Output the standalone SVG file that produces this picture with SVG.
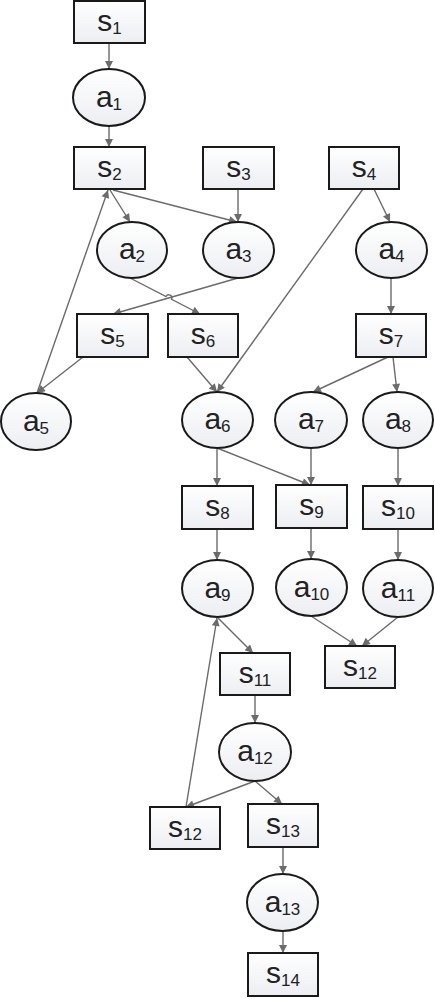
<svg xmlns="http://www.w3.org/2000/svg" width="435" height="998" viewBox="0 0 435 998">
<defs>
<linearGradient id="g" x1="0" y1="0" x2="0" y2="1">
<stop offset="0" stop-color="#ffffff"/>
<stop offset="1" stop-color="#eceef2"/>
</linearGradient>
<marker id="ah" viewBox="0 0 10 10" refX="10" refY="5" markerWidth="10" markerHeight="8" markerUnits="userSpaceOnUse" orient="auto">
<path d="M0,0 L10,5 L0,10 z" fill="#6b6b6b"/>
</marker>
<style>
rect, ellipse { fill: url(#g); stroke: #1a1a1a; stroke-width: 2; }
text { font-family: "Liberation Sans", Arial, sans-serif; font-size: 30px; fill: #222; text-anchor: middle; }
.sub { font-size: 17px; }
#edges line, #edges path { stroke: #6b6b6b; stroke-width: 1.4; fill: none; marker-end: url(#ah); }
</style>
</defs>
<g id="edges">
<line x1="109" y1="43" x2="109" y2="69"/>
<line x1="109" y1="126" x2="109" y2="147"/>
<line x1="110" y1="190" x2="130" y2="222"/>
<line x1="113" y1="190" x2="237" y2="222"/>
<line x1="238" y1="189" x2="238" y2="222"/>
<line x1="374" y1="189" x2="390" y2="222"/>
<line x1="363" y1="189" x2="217" y2="392"/>
<line x1="37" y1="393" x2="108" y2="190"/>
<line x1="83" y1="357" x2="37" y2="393"/>
<path d="M130,278 L166.1,296.5 A3,3 0 0 1 171.5,299.3 L200,314"/>
<line x1="238" y1="278" x2="113" y2="314"/>
<line x1="187" y1="357" x2="217" y2="392"/>
<line x1="391" y1="278" x2="391" y2="314"/>
<line x1="388" y1="357" x2="313" y2="392"/>
<line x1="393" y1="357" x2="397" y2="392"/>
<line x1="217" y1="448" x2="217" y2="486"/>
<line x1="217" y1="448" x2="310" y2="485"/>
<line x1="311" y1="448" x2="311" y2="485"/>
<line x1="398" y1="448" x2="398" y2="486"/>
<line x1="217" y1="529" x2="217" y2="560"/>
<line x1="311" y1="528" x2="311" y2="559"/>
<line x1="398" y1="529" x2="398" y2="560"/>
<line x1="311" y1="616" x2="357" y2="646"/>
<line x1="398" y1="617" x2="362" y2="646"/>
<line x1="218" y1="618" x2="253" y2="653"/>
<line x1="186" y1="807" x2="217" y2="618"/>
<line x1="255" y1="695" x2="255" y2="723"/>
<line x1="255" y1="781" x2="186" y2="807"/>
<line x1="255" y1="781" x2="282" y2="804"/>
<line x1="283" y1="847" x2="283" y2="874"/>
<line x1="283" y1="931" x2="283" y2="953"/>
</g>
<g id="s1"><rect x="74" y="1" width="71" height="42"/><text x="109.5" y="31">s<tspan class="sub" dy="3">1</tspan></text></g>
<g id="a1"><ellipse cx="109" cy="97.5" rx="36" ry="28.5"/><text x="109" y="107">a<tspan class="sub" dy="3">1</tspan></text></g>
<g id="s2"><rect x="74" y="147" width="71" height="42"/><text x="109.5" y="177">s<tspan class="sub" dy="3">2</tspan></text></g>
<g id="s3"><rect x="203" y="147" width="71" height="42"/><text x="238.5" y="177">s<tspan class="sub" dy="3">3</tspan></text></g>
<g id="s4"><rect x="329" y="147" width="70" height="42"/><text x="364" y="177">s<tspan class="sub" dy="3">4</tspan></text></g>
<g id="a2"><ellipse cx="132" cy="250" rx="35" ry="28"/><text x="132" y="259">a<tspan class="sub" dy="3">2</tspan></text></g>
<g id="a3"><ellipse cx="238.5" cy="250" rx="35.5" ry="28"/><text x="238.5" y="259">a<tspan class="sub" dy="3">3</tspan></text></g>
<g id="a4"><ellipse cx="391.5" cy="250" rx="35.5" ry="28"/><text x="391.5" y="259">a<tspan class="sub" dy="3">4</tspan></text></g>
<g id="s5"><rect x="77" y="314" width="71" height="43"/><text x="112.5" y="344">s<tspan class="sub" dy="3">5</tspan></text></g>
<g id="s6"><rect x="168" y="314" width="70" height="43"/><text x="203" y="344">s<tspan class="sub" dy="3">6</tspan></text></g>
<g id="s7"><rect x="356" y="314" width="70" height="43"/><text x="391" y="344">s<tspan class="sub" dy="3">7</tspan></text></g>
<g id="a5"><ellipse cx="36" cy="421.5" rx="35" ry="28.5"/><text x="36" y="431">a<tspan class="sub" dy="3">5</tspan></text></g>
<g id="a6"><ellipse cx="217.5" cy="420" rx="35.5" ry="28"/><text x="217.5" y="429">a<tspan class="sub" dy="3">6</tspan></text></g>
<g id="a7"><ellipse cx="311" cy="420" rx="36" ry="28"/><text x="311" y="429">a<tspan class="sub" dy="3">7</tspan></text></g>
<g id="a8"><ellipse cx="398" cy="420" rx="35" ry="28"/><text x="398" y="429">a<tspan class="sub" dy="3">8</tspan></text></g>
<g id="s8"><rect x="182" y="486" width="71" height="43"/><text x="217.5" y="516">s<tspan class="sub" dy="3">8</tspan></text></g>
<g id="s9"><rect x="276" y="485" width="71" height="43"/><text x="311.5" y="515">s<tspan class="sub" dy="3">9</tspan></text></g>
<g id="s10"><rect x="363" y="486" width="70" height="43"/><text x="398" y="516">s<tspan class="sub" dy="3">10</tspan></text></g>
<g id="a9"><ellipse cx="217.5" cy="588.5" rx="35.5" ry="28.5"/><text x="217.5" y="598">a<tspan class="sub" dy="3">9</tspan></text></g>
<g id="a10"><ellipse cx="311.5" cy="587.5" rx="35.5" ry="28.5"/><text x="311.5" y="597">a<tspan class="sub" dy="3">10</tspan></text></g>
<g id="a11"><ellipse cx="398" cy="588.5" rx="35" ry="28.5"/><text x="398" y="598">a<tspan class="sub" dy="3">11</tspan></text></g>
<g id="s12r"><rect x="325" y="646" width="70" height="42"/><text x="360" y="676">s<tspan class="sub" dy="3">12</tspan></text></g>
<g id="s11"><rect x="220" y="653" width="70" height="42"/><text x="255" y="683">s<tspan class="sub" dy="3">11</tspan></text></g>
<g id="a12"><ellipse cx="255" cy="752" rx="36" ry="29"/><text x="255" y="761">a<tspan class="sub" dy="3">12</tspan></text></g>
<g id="s12l"><rect x="150" y="807" width="70" height="42"/><text x="185" y="837">s<tspan class="sub" dy="3">12</tspan></text></g>
<g id="s13"><rect x="248" y="804" width="70" height="43"/><text x="283" y="834">s<tspan class="sub" dy="3">13</tspan></text></g>
<g id="a13"><ellipse cx="282.5" cy="902.5" rx="35.5" ry="28.5"/><text x="282.5" y="912">a<tspan class="sub" dy="3">13</tspan></text></g>
<g id="s14"><rect x="248" y="953" width="70" height="43"/><text x="283" y="983">s<tspan class="sub" dy="3">14</tspan></text></g>
</svg>
